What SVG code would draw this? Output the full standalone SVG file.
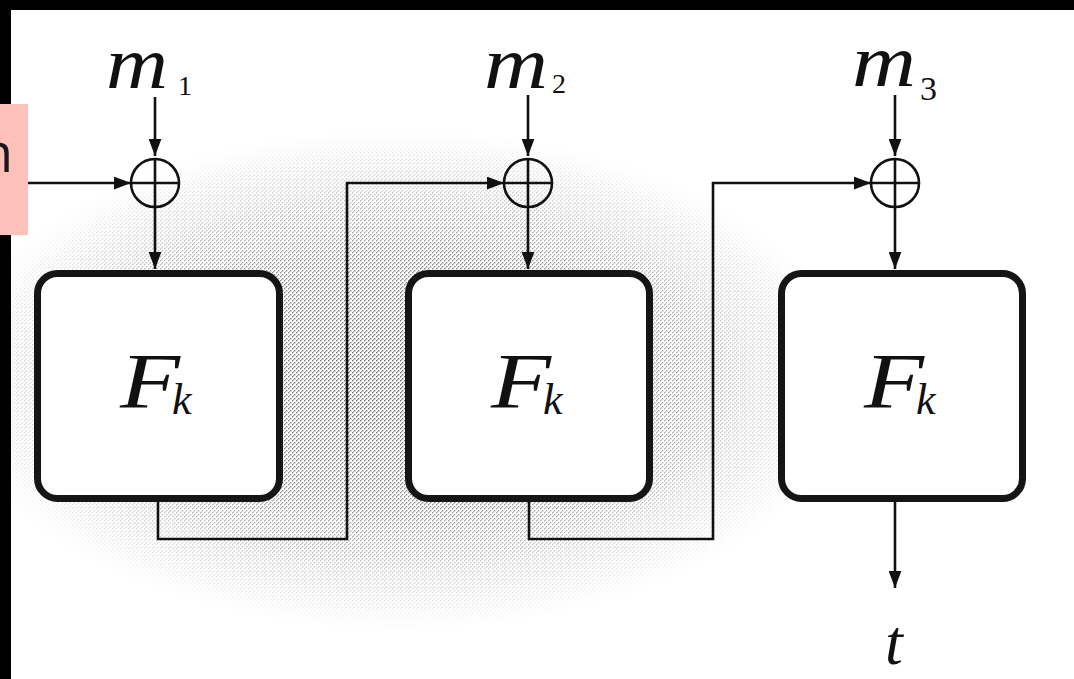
<svg xmlns="http://www.w3.org/2000/svg" width="1074" height="679" viewBox="0 0 1074 679">
<style>
.conn{fill:none;stroke:#111;stroke-width:2.6}
.box{fill:#fff;stroke:#151515;stroke-width:7}
.xor{fill:none;stroke:#111;stroke-width:2.6}
.mi{font-family:"Liberation Serif",serif;font-style:italic;fill:#111}
.sub{font-family:"Liberation Serif",serif;fill:#111}
</style>
<defs>
<marker id="ah" viewBox="0 0 16 12" refX="16" refY="6" markerWidth="17" markerHeight="13" markerUnits="userSpaceOnUse" orient="auto">
<path d="M0,0 L16,6 L0,12 Z" fill="#111"/>
</marker>
<pattern id="dots" width="4" height="4" patternUnits="userSpaceOnUse">
<rect x="0" y="0" width="1.4" height="1.4" fill="#666"/>
<rect x="2" y="2" width="1.4" height="1.4" fill="#666"/>
<rect x="1" y="3" width="1" height="1" fill="#999"/>
</pattern>
<radialGradient id="fade" cx="0.5" cy="0.5" r="0.5">
<stop offset="0" stop-color="#fff"/>
<stop offset="0.5" stop-color="#bbb"/>
<stop offset="1" stop-color="#000"/>
</radialGradient>
<mask id="m">
<ellipse cx="400" cy="380" rx="450" ry="250" fill="url(#fade)"/>
</mask>
</defs>
<rect width="1074" height="679" fill="#fff"/>
<rect x="0" y="0" width="1074" height="679" fill="url(#dots)" mask="url(#m)"/>
<rect x="0" y="0" width="1074" height="10" fill="#000"/>
<rect x="0" y="0" width="11" height="679" fill="#000"/>
<g id="label-pink">
<rect x="0" y="104" width="28" height="131" fill="#fdc0ba"/>
<text x="13" y="172" text-anchor="end" font-family="Open Sans, sans-serif" font-size="54" fill="#1a1a1a">n</text>
</g>
<g id="connectors">
<line class="conn" x1="28" y1="183" x2="131" y2="183" marker-end="url(#ah)"/>
<line class="conn" x1="155" y1="97" x2="155" y2="156" marker-end="url(#ah)"/>
<line class="conn" x1="155" y1="208" x2="155" y2="269" marker-end="url(#ah)"/>
<line class="conn" x1="528" y1="95" x2="528" y2="156" marker-end="url(#ah)"/>
<line class="conn" x1="528" y1="208" x2="528" y2="269" marker-end="url(#ah)"/>
<line class="conn" x1="895" y1="95" x2="895" y2="156" marker-end="url(#ah)"/>
<line class="conn" x1="895" y1="208" x2="895" y2="269" marker-end="url(#ah)"/>
<path class="conn" d="M158,500 V539 H347 V183 H504" marker-end="url(#ah)"/>
<path class="conn" d="M529,500 V539 H713 V183 H871" marker-end="url(#ah)"/>
<line class="conn" x1="895" y1="500" x2="895" y2="588" marker-end="url(#ah)"/>
</g>
<g id="m1">
<text class="mi" x="106" y="88" font-size="74" textLength="62" lengthAdjust="spacingAndGlyphs">m</text>
<text class="sub" x="178" y="95" font-size="28">1</text>
</g>
<g id="m2">
<text class="mi" x="484" y="88" font-size="74" textLength="64" lengthAdjust="spacingAndGlyphs">m</text>
<text class="sub" x="552" y="93" font-size="28">2</text>
</g>
<g id="m3">
<text class="mi" x="852" y="86" font-size="74" textLength="64" lengthAdjust="spacingAndGlyphs">m</text>
<text class="sub" x="920" y="100" font-size="34">3</text>
</g>
<g id="xor1">
<circle class="xor" cx="155" cy="183" r="24"/>
<path class="xor" d="M131,183 H179 M155,159 V207"/>
</g>
<g id="xor2">
<circle class="xor" cx="528" cy="183" r="24"/>
<path class="xor" d="M504,183 H552 M528,159 V207"/>
</g>
<g id="xor3">
<circle class="xor" cx="895" cy="183" r="24"/>
<path class="xor" d="M871,183 H919 M895,159 V207"/>
</g>
<g id="F1">
<rect class="box" x="37.5" y="273.5" width="242" height="225" rx="20"/>
<text class="mi" x="120" y="407" font-size="78" textLength="60" lengthAdjust="spacingAndGlyphs">F</text>
<text class="mi" x="172" y="414" font-size="44">k</text>
</g>
<g id="F2">
<rect class="box" x="408.5" y="273.5" width="241" height="225" rx="20"/>
<text class="mi" x="491" y="407" font-size="78" textLength="60" lengthAdjust="spacingAndGlyphs">F</text>
<text class="mi" x="543" y="414" font-size="44">k</text>
</g>
<g id="F3">
<rect class="box" x="781.5" y="273.5" width="241" height="225" rx="20"/>
<text class="mi" x="864" y="407" font-size="78" textLength="60" lengthAdjust="spacingAndGlyphs">F</text>
<text class="mi" x="916" y="414" font-size="44">k</text>
</g>
<g id="out-t">
<text class="mi" x="885" y="664" font-size="64">t</text>
</g>
</svg>
